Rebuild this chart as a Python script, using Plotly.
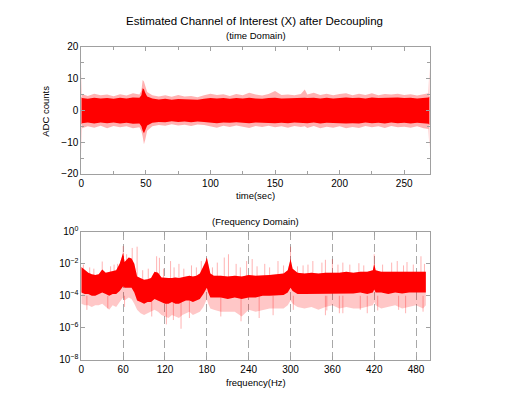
import plotly.graph_objects as go
from plotly.subplots import make_subplots

# ---- time domain: envelope of the decoupled signal (ADC counts)
t_sec = [0, 0.6, 5, 10, 15, 20, 25, 30, 35, 40, 45, 46.5, 47.5, 48.5, 49.5, 51, 55,
         60, 65, 70, 75, 80, 85, 90, 95, 100, 105, 110, 115, 120, 125, 130, 135,
         140, 145, 150, 155, 160, 165, 170, 173, 175, 180, 185, 190, 195, 200, 205,
         210, 215, 220, 225, 230, 235, 240, 245, 250, 255, 260, 265, 268.8, 269.5]
peak_hi = [12.7, 5.2, 4.6, 5.3, 4.8, 5.0, 4.5, 5.1, 4.7, 5.4, 5.0, 6.2, 9.6, 9.1, 7.8, 5.8, 4.8,
           4.4, 4.8, 4.3, 4.9, 4.4, 4.6, 4.2, 4.8, 5.3, 4.9, 5.1, 4.6, 5.2, 4.8, 5.6, 5.0,
           4.7, 5.2, 6.1, 4.9, 5.0, 4.8, 5.2, 6.6, 5.0, 5.6, 4.9, 5.3, 4.8, 5.2, 5.4,
           4.8, 5.3, 4.9, 5.4, 4.8, 5.2, 5.0, 5.3, 4.9, 5.1, 4.7, 5.2, 5.4, 13.7]
peak_lo = [-14.0, -5.6, -5.0, -5.4, -4.8, -5.6, -4.9, -5.3, -5.0, -5.6, -5.3, -6.5, -8.2, -10.6, -9.2, -6.4, -5.0,
           -4.6, -4.8, -4.3, -4.7, -4.5, -4.9, -4.4, -4.6, -5.0, -5.4, -4.8, -5.2, -4.7, -5.1, -5.5, -4.9,
           -5.2, -4.8, -5.3, -5.0, -5.4, -4.9, -5.2, -5.0, -5.5, -4.9, -5.6, -5.1, -5.4, -5.0, -5.6,
           -5.2, -5.5, -4.9, -5.3, -5.0, -5.5, -4.9, -5.3, -5.1, -5.4, -5.0, -5.6, -5.8, -12.0]
core_hi = [4.2, 3.9, 3.7, 4.0, 3.8, 3.9, 3.7, 4.0, 3.8, 4.1, 4.0, 4.8, 7.0, 6.7, 5.6, 4.4, 3.8,
           3.5, 3.7, 3.4, 3.6, 3.5, 3.6, 3.4, 3.7, 3.9, 3.8, 3.9, 3.7, 3.9, 3.8, 4.0, 3.8,
           3.7, 3.9, 4.0, 3.8, 3.9, 3.8, 3.9, 4.0, 3.9, 4.0, 3.8, 4.0, 3.8, 4.0, 4.1,
           3.9, 4.0, 3.8, 4.1, 3.9, 4.0, 3.9, 4.1, 3.9, 4.0, 3.8, 4.0, 4.1, 4.4]
core_lo = [-4.4, -4.0, -3.8, -4.1, -3.8, -4.0, -3.8, -4.1, -3.9, -4.2, -4.1, -5.0, -6.4, -7.2, -6.2, -4.7, -3.9,
           -3.6, -3.7, -3.4, -3.6, -3.5, -3.7, -3.5, -3.6, -3.8, -4.0, -3.8, -3.9, -3.7, -3.9, -4.0, -3.8,
           -3.9, -3.8, -4.0, -3.9, -4.0, -3.8, -3.9, -3.9, -4.0, -3.8, -4.1, -3.9, -4.0, -3.9, -4.1,
           -4.0, -4.1, -3.8, -4.0, -3.9, -4.1, -3.8, -4.0, -3.9, -4.1, -3.9, -4.1, -4.2, -4.6]

# ---- frequency domain: band of the spectrum magnitude
f_hz = [0, 5, 10, 15, 20, 25, 30, 35, 40, 45, 50, 55, 58, 60, 62, 65, 68, 72, 76,
        80, 85, 90, 95, 100, 105, 110, 115, 120, 125, 130, 135, 140, 145, 150, 155,
        160, 165, 170, 175, 178, 180, 182, 185, 190, 200, 210, 220, 230, 240, 250,
        260, 270, 280, 290, 296, 300, 303, 310, 320, 330, 340, 350, 360, 370, 380,
        390, 400, 410, 418, 420, 422, 430, 440, 450, 460, 470, 480, 490, 494]
band_top = [6.3e-3, 4.0e-3, 2.8e-3, 2.2e-3, 2.0e-3, 2.2e-3, 4.5e-3, 2.8e-3, 3.2e-3, 3.5e-3, 4.0e-3, 1.0e-2, 2.5e-2, 5.0e-2, 1.3e-2, 1.8e-2, 2.5e-2, 2.2e-2, 1.0e-2,
            1.6e-3, 1.3e-3, 1.0e-3, 1.1e-3, 1.3e-3, 3.2e-3, 2.8e-3, 1.4e-3, 1.3e-3, 1.3e-3, 1.3e-3, 1.4e-3, 1.3e-3, 1.4e-3, 1.6e-3, 1.8e-3,
            1.6e-3, 1.8e-3, 2.5e-3, 6.3e-3, 1.3e-2, 2.5e-2, 7.9e-3, 2.5e-3, 1.8e-3, 1.8e-3, 1.6e-3, 1.8e-3, 1.6e-3, 2.0e-3, 1.8e-3,
            2.0e-3, 2.0e-3, 2.2e-3, 2.5e-3, 4.0e-3, 2.0e-2, 5.0e-3, 2.8e-3, 2.5e-3, 2.8e-3, 2.5e-3, 2.8e-3, 2.8e-3, 2.8e-3, 3.2e-3,
            2.8e-3, 3.2e-3, 3.2e-3, 4.0e-3, 1.0e-2, 4.0e-3, 3.2e-3, 3.2e-3, 3.2e-3, 3.2e-3, 3.2e-3, 3.2e-3, 3.2e-3, 3.2e-3]
band_bot = [1.6e-4, 1.3e-4, 1.3e-4, 1.0e-4, 1.0e-4, 1.3e-4, 1.6e-4, 1.3e-4, 1.0e-4, 1.3e-4, 1.3e-4, 2.0e-4, 3.2e-4, 4.0e-4, 3.2e-4, 3.2e-4, 3.2e-4, 3.2e-4, 1.6e-4,
            5.0e-5, 4.0e-5, 3.2e-5, 4.0e-5, 4.0e-5, 6.3e-5, 5.0e-5, 4.0e-5, 3.2e-5, 3.2e-5, 4.0e-5, 3.2e-5, 3.2e-5, 4.0e-5, 5.0e-5, 5.0e-5,
            4.0e-5, 5.0e-5, 6.3e-5, 1.3e-4, 2.0e-4, 3.2e-4, 1.6e-4, 7.9e-5, 7.9e-5, 7.9e-5, 6.3e-5, 7.9e-5, 6.3e-5, 7.9e-5, 7.9e-5,
            1.0e-4, 1.0e-4, 1.0e-4, 1.1e-4, 1.6e-4, 3.2e-4, 2.0e-4, 1.3e-4, 1.3e-4, 1.3e-4, 1.3e-4, 1.3e-4, 1.4e-4, 1.3e-4, 1.3e-4,
            1.4e-4, 1.6e-4, 1.3e-4, 1.6e-4, 2.5e-4, 1.6e-4, 1.6e-4, 1.3e-4, 1.6e-4, 1.4e-4, 1.6e-4, 1.6e-4, 1.6e-4, 1.6e-4]
band_floor = [3.2e-5, 2.5e-5, 2.5e-5, 2.0e-5, 2.5e-5, 2.5e-5, 3.2e-5, 2.0e-5, 1.3e-5, 2.5e-5, 2.0e-5, 4.0e-5, 6.3e-5, 7.9e-5, 5.0e-5, 6.3e-5, 7.9e-5, 6.3e-5, 3.2e-5,
              1.3e-5, 7.9e-6, 6.3e-6, 7.9e-6, 1.0e-5, 1.3e-5, 1.0e-5, 6.3e-6, 5.0e-6, 4.0e-6, 6.3e-6, 5.0e-6, 4.0e-6, 6.3e-6, 7.9e-6, 1.0e-5,
              6.3e-6, 7.9e-6, 1.0e-5, 2.0e-5, 4.0e-5, 6.3e-5, 3.2e-5, 1.6e-5, 1.3e-5, 1.0e-5, 1.0e-5, 1.0e-5, 5.0e-6, 1.3e-5, 1.0e-5,
              1.3e-5, 1.6e-5, 1.6e-5, 1.6e-5, 2.5e-5, 5.0e-5, 3.2e-5, 2.0e-5, 1.6e-5, 2.0e-5, 1.3e-5, 2.0e-5, 2.5e-5, 1.6e-5, 2.0e-5,
              1.6e-5, 1.6e-5, 2.0e-5, 2.5e-5, 4.0e-5, 2.5e-5, 1.6e-5, 2.0e-5, 2.5e-5, 1.6e-5, 2.0e-5, 2.5e-5, 1.6e-5, 2.5e-5]

# isolated narrow lines sticking out of the band
spike_up_f = [3, 12, 18, 30, 42, 47, 52, 60, 65, 73, 80, 88, 96, 108, 112, 118, 128, 133, 140,
              147, 158, 165, 172, 188, 195, 205, 211, 222, 228, 237, 245, 252, 263, 270, 282,
              290, 300, 310, 318, 325, 332, 345, 350, 360, 368, 375, 385, 398, 405, 420, 432,
              445, 453, 462, 467, 476, 487, 492]
spike_up_amp = [9.0e-3, 6.0e-3, 5.0e-3, 1.4e-2, 7.0e-3, 9.0e-3, 1.0e-2, 1.3e-1, 4.0e-2, 1.0e-1, 1.2e-1, 4.0e-3, 5.0e-3, 3.0e-2, 2.4e-2, 5.0e-3, 1.5e-2, 6.0e-3, 1.0e-2,
                5.0e-3, 8.0e-3, 6.0e-3, 1.5e-2, 6.0e-3, 1.2e-2, 2.5e-2, 4.0e-2, 1.0e-2, 6.0e-3, 1.5e-2, 2.0e-2, 7.0e-3, 1.0e-2, 6.0e-3, 1.5e-2,
                8.0e-3, 1.2e-1, 7.0e-3, 8.0e-3, 9.0e-3, 1.5e-2, 1.2e-2, 1.8e-2, 2.0e-2, 9.0e-3, 1.2e-2, 9.0e-3, 1.1e-2, 8.0e-3, 4.0e-2, 9.0e-3,
                1.2e-2, 1.5e-2, 8.0e-3, 1.3e-2, 9.0e-3, 3.0e-2, 1.0e-2]
spike_dn_f = [8, 38, 62, 101, 122, 132, 143, 155, 200, 229, 255, 275, 304, 350, 352, 370,
              375, 400, 410, 425, 455, 465, 490]
spike_dn_amp = [1.3e-5, 1.6e-5, 2.0e-5, 5.0e-6, 1.6e-6, 3.0e-6, 8.5e-7, 4.0e-6, 5.0e-6, 2.5e-6, 4.0e-6, 6.0e-6, 1.3e-5, 6.0e-6, 1.2e-5, 8.0e-6,
                8.0e-6, 1.3e-5, 8.0e-6, 1.2e-5, 1.3e-5, 8.0e-6, 1.0e-5]

x_ticks_time = [0, 50, 100, 150, 200, 250]
x_ticks_freq = [0, 60, 120, 180, 240, 300, 360, 420, 480]
y_ticks_freq = [1e0, 1e-2, 1e-4, 1e-6, 1e-8]
y_ticks_freq_text = ["10<sup>0</sup>", "10<sup>\u22122</sup>", "10<sup>\u22124</sup>",
                     "10<sup>\u22126</sup>", "10<sup>\u22128</sup>"]

RED = "#ff0000"
PINK = "rgba(255,0,0,0.3)"
PALE = "rgba(255,0,0,0.22)"
FRAME = "#a0a0a0"
FONT = "Liberation Sans, Arial, sans-serif"

fig = make_subplots(rows=2, cols=1)


def band(x, lo, hi, color, row):
    fig.add_trace(go.Scatter(x=x, y=lo, mode="lines", line=dict(width=0),
                             hoverinfo="skip", showlegend=False), row=row, col=1)
    fig.add_trace(go.Scatter(x=x, y=hi, mode="lines", line=dict(width=0),
                             fill="tonexty", fillcolor=color,
                             hoverinfo="skip", showlegend=False), row=row, col=1)


def sticks(xs, base, tips, row):
    sx, sy = [], []
    for x, b, tip in zip(xs, base, tips):
        sx += [x, x, None]
        sy += [b, tip, None]
    fig.add_trace(go.Scatter(x=sx, y=sy, mode="lines", line=dict(color=PINK, width=1),
                             hoverinfo="skip", showlegend=False), row=row, col=1)


# time domain
band(t_sec, peak_lo, peak_hi, PINK, 1)
band(t_sec, core_lo, core_hi, RED, 1)

# frequency domain
band(f_hz, band_floor, band_top, PALE, 2)
sticks(spike_up_f, [1e-3] * len(spike_up_f), spike_up_amp, 2)
sticks(spike_dn_f, [1e-4] * len(spike_dn_f), spike_dn_amp, 2)
band(f_hz, band_bot, band_top, RED, 2)

axis_common = dict(showline=True, linecolor=FRAME, linewidth=1, mirror="ticks",
                   ticks="inside", ticklen=4, tickcolor=FRAME, zeroline=False,
                   automargin=False,
                   tickfont=dict(size=10, color="#000", family=FONT))

x_dom = [0.1537, 0.8129]
fig.update_xaxes(axis_common, row=1, col=1, range=[0, 270], tickvals=x_ticks_time,
                 showgrid=False, domain=x_dom,
                 minor=dict(dtick=25, ticks="inside", ticklen=3, tickcolor=FRAME))
fig.update_yaxes(axis_common, row=1, col=1, range=[-20, 20], dtick=10,
                 showgrid=False, domain=[0.5746, 0.8851],
                 minor=dict(dtick=5, ticks="inside", ticklen=3, tickcolor=FRAME))
fig.update_xaxes(axis_common, row=2, col=1, range=[0, 500], tickvals=x_ticks_freq,
                 showgrid=True, gridcolor="#a8a8a8", griddash="8px,4px", gridwidth=1,
                 domain=x_dom)
fig.update_yaxes(axis_common, row=2, col=1, type="log", range=[-8, 0],
                 tickvals=y_ticks_freq, ticktext=y_ticks_freq_text,
                 showgrid=False, domain=[0.1210, 0.4328])

labels = [
    ("Estimated Channel of Interest (X) after Decoupling", 0.4805, 0.9479, 11.5, 0),
    ("(time Domain)", 0.4834, 0.9134, 9.5, 0),
    ("time(sec)", 0.4834, 0.5215, 9.5, 0),
    ("ADC counts", 0.086, 0.7279, 9.5, -90),
    ("(Frequency Domain)", 0.4834, 0.4592, 9.5, 0),
    ("frequency(Hz)", 0.4834, 0.0658, 9.5, 0),
]
for text, x, y, size, angle in labels:
    fig.add_annotation(text=text, x=x, y=y, xref="paper", yref="paper",
                       xanchor="center", yanchor="middle", showarrow=False,
                       textangle=angle, font=dict(size=size, color="#000", family=FONT))

fig.update_layout(width=529, height=409, margin=dict(l=0, r=0, t=0, b=0),
                  paper_bgcolor="#fff", plot_bgcolor="#fff", showlegend=False,
                  font=dict(family=FONT, color="#000"))

fig.write_html("out.html", config={"displayModeBar": False},
               post_script="document.body.style.margin='0';")
